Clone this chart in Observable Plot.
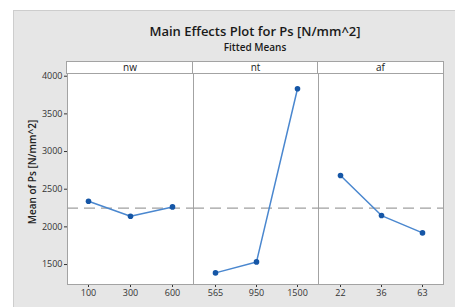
<!DOCTYPE html>
<html>
<head>
<meta charset="utf-8">
<script src="https://cdn.jsdelivr.net/npm/d3@7"></script>
<script src="https://cdn.jsdelivr.net/npm/@observablehq/plot@0.6"></script>
<style>
  html, body { margin: 0; padding: 0; background: #ffffff; }
  #wrap { position: relative; width: 455px; height: 307px; overflow: hidden; font-family: "Open Sans", sans-serif; }
  #bg { position: absolute; left: 13px; top: 10px; width: 470px; height: 320px; background: #e6e6e6; border: 1px solid #cdcdcd; }
  .title { position: absolute; left: 55px; width: 400px; text-align: center; color: #1a1a1a; }
  .strip { position: absolute; top: 61px; height: 11px; background: #fff; border: 1px solid #a3a3a3; box-sizing: content-box;
           font-size: 10px; line-height: 11px; text-align: center; color: #222; }
  .panel { position: absolute; top: 0; left: 0; }
  #ylab { position: absolute; left: 32px; top: 172px; transform: translate(-50%, -50%) rotate(-90deg);
          white-space: nowrap; font-size: 10px; font-weight: 600; color: #222; }
</style>
</head>
<body>
<div id="wrap">
  <div id="bg"></div>
</div>
<script>
const titleText = "Main Effects Plot for Ps [N/mm^2]";
const subtitleText = "Fitted Means";
const yLabel = "Mean of Ps [N/mm^2]";
const factors = ["nw", "nt", "af"];
const nwLevels = ["100", "300", "600"];
const nwMeans = [2340, 2141, 2265];
const ntLevels = ["565", "950", "1500"];
const ntMeans = [1389, 1535, 3833];
const afLevels = ["22", "36", "63"];
const afMeans = [2681, 2150, 1920];
const grandMean = 2249;
const yTicks = [1500, 2000, 2500, 3000, 3500, 4000];
const yDomain = [1235, 4036];

const wrap = document.getElementById("wrap");

function addDiv(cls, text, css) {
  const d = document.createElement("div");
  if (cls) d.className = cls;
  d.textContent = text;
  Object.assign(d.style, css || {});
  wrap.appendChild(d);
  return d;
}

addDiv("title", titleText, {top: "22px", fontSize: "13px", lineHeight: "18px", fontWeight: "600"});
addDiv("title", subtitleText, {top: "40px", fontSize: "10px", lineHeight: "14px", fontWeight: "600"});

const panels = [
  {name: factors[0], levels: nwLevels, means: nwMeans, left: 0, width: 193, marginLeft: 67, first: true},
  {name: factors[1], levels: ntLevels, means: ntMeans, left: 193, width: 125, marginLeft: 0},
  {name: factors[2], levels: afLevels, means: afMeans, left: 318, width: 125, marginLeft: 0}
];

for (const p of panels) {
  const data = p.levels.map((l, i) => ({level: l, mean: p.means[i]}));
  const chart = Plot.plot({
    width: p.width,
    height: 307,
    marginLeft: p.marginLeft,
    marginRight: 0,
    marginTop: 73,
    marginBottom: 23,
    style: {background: "transparent", overflow: "visible", fontFamily: "Open Sans, sans-serif", fontSize: "9px", color: "#333"},
    x: {type: "point", domain: p.levels, padding: 0.5, tickSize: 3, tickPadding: 2, label: null},
    y: p.first
      ? {domain: yDomain, ticks: yTicks, tickFormat: d3.format("d"), tickSize: 3, tickPadding: 2, label: null}
      : {domain: yDomain, axis: null},
    marks: [
      Plot.frame({fill: "white", stroke: "#a3a3a3"}),
      Plot.ruleY([grandMean], {stroke: "#a0a0a0", strokeWidth: 1.2, strokeDasharray: "11,6"}),
      Plot.line(data, {x: "level", y: "mean", stroke: "#4a87cf", strokeWidth: 1.5}),
      Plot.dot(data, {x: "level", y: "mean", r: 2.8, fill: "#1556a6"})
    ]
  });
  chart.classList.add("panel");
  chart.style.position = "absolute";
  chart.style.left = p.left + "px";
  chart.style.top = "0px";
  wrap.appendChild(chart);
  const stripLeft = p.left + p.marginLeft;
  addDiv("strip", p.name, {left: (stripLeft - 1) + "px", width: (p.width - p.marginLeft) + "px"});
}

addDiv(null, yLabel, {}).id = "ylab";
</script>
</body>
</html>
